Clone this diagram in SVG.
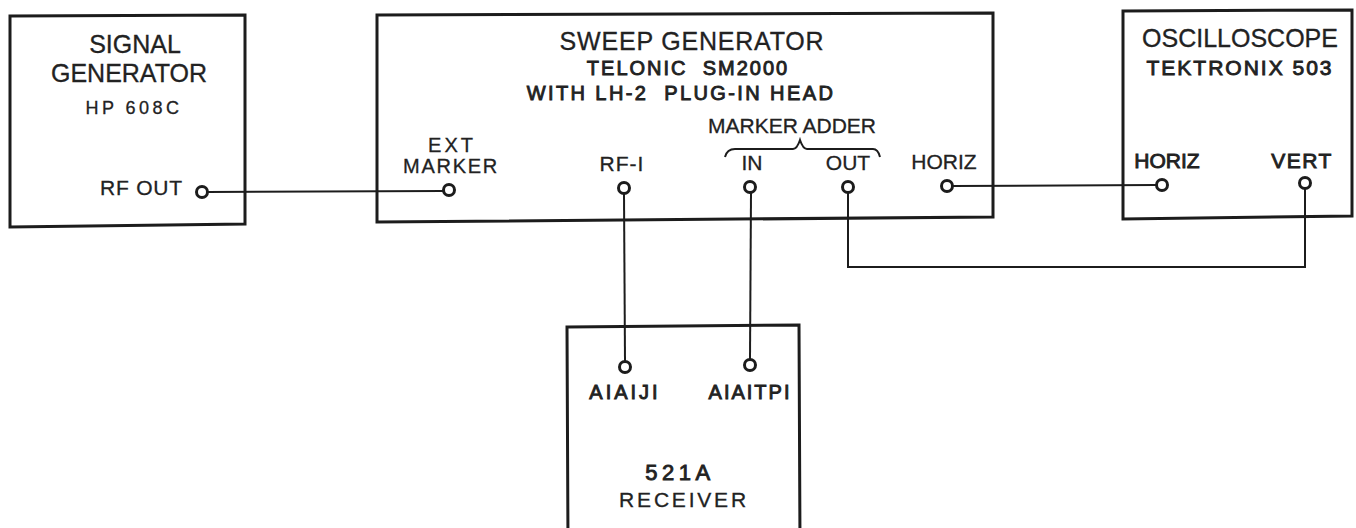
<svg xmlns="http://www.w3.org/2000/svg" width="1356" height="528" viewBox="0 0 1356 528">
<style>
.box{fill:none;stroke:#1c1c1c;stroke-width:3;stroke-linejoin:miter}
.wire{fill:none;stroke:#1c1c1c;stroke-width:2}
.port{fill:#fff;stroke:#1c1c1c;stroke-width:3}
text{font-family:"Liberation Sans",Arial,sans-serif;fill:#222;text-anchor:middle;stroke:#222;stroke-width:0.3}
.big{font-size:25px}
.med{font-size:21px}
.bold{stroke-width:0.9}
</style>
<rect width="1356" height="528" fill="#fff"/>
<g id="connectors">
  <polyline class="wire" points="208,192 443,191"/>
  <polyline class="wire" points="953,186 1156,185"/>
  <polyline class="wire" points="848,193 848,267 1305,267 1305,189"/>
  <polyline class="wire" points="624,194 625,361"/>
  <polyline class="wire" points="751,193 750,359"/>
  <path class="wire" d="M725,157 Q727,149 735,149 L793,149 Q797,149 800,140 Q803,149 807,149 L873,149 Q878,149 880,157"/>
</g>
<g id="signal-generator">
  <path class="box" d="M10,16 L245,15 L245,224 L10,227 Z"/>
  <text class="big" x="135" y="53">SIGNAL</text>
  <text class="big" x="129" y="82">GENERATOR</text>
  <text x="134" y="114" style="font-size:18px;letter-spacing:3.5px">HP 608C</text>
  <text class="med" x="100" y="195" style="text-anchor:start;letter-spacing:0.8px">RF OUT</text>
  <circle class="port" cx="202" cy="192" r="5.5"/>
</g>
<g id="sweep-generator">
  <path class="box" d="M377,15 L993,13 L993,217 L377,222 Z"/>
  <text class="big" x="692" y="50" style="letter-spacing:0.8px">SWEEP GENERATOR</text>
  <text class="bold" x="688" y="75" xml:space="preserve" style="font-size:20px;letter-spacing:2px">TELONIC  SM2000</text>
  <text class="bold" x="681" y="100" xml:space="preserve" style="font-size:20px;letter-spacing:2.4px">WITH LH-2  PLUG-IN HEAD</text>
  <text class="med" x="452" y="152" style="font-size:20px;letter-spacing:3px">EXT</text>
  <text class="med" x="451" y="173" style="font-size:20px;letter-spacing:1.7px">MARKER</text>
  <circle class="port" cx="449" cy="190" r="5.5"/>
  <text class="med" x="622" y="171" style="letter-spacing:1px">RF-I</text>
  <circle class="port" cx="624" cy="188" r="5.5"/>
  <text class="med" x="792" y="133">MARKER ADDER</text>
  <text class="med" x="752" y="170">IN</text>
  <circle class="port" cx="750" cy="187" r="5.5"/>
  <text class="med" x="848" y="170">OUT</text>
  <circle class="port" cx="848" cy="187" r="5.5"/>
  <text class="med" x="944" y="169">HORIZ</text>
  <circle class="port" cx="947" cy="186" r="5.5"/>
</g>
<g id="oscilloscope">
  <path class="box" d="M1123,11 L1352,10 L1352,216 L1123,219 Z"/>
  <text class="big" x="1240" y="47">OSCILLOSCOPE</text>
  <text class="med bold" x="1240" y="75" style="letter-spacing:2px">TEKTRONIX 503</text>
  <text class="med bold" x="1167" y="168">HORIZ</text>
  <text class="med bold" x="1302" y="168" style="letter-spacing:1.5px">VERT</text>
  <circle class="port" cx="1162" cy="185" r="5.5"/>
  <circle class="port" cx="1305" cy="183" r="5.5"/>
</g>
<g id="receiver">
  <path class="box" d="M567,327 L799,325 L800,545 L568,545 Z"/>
  <circle class="port" cx="625" cy="367" r="5.5"/>
  <circle class="port" cx="750" cy="365" r="5.5"/>
  <text class="bold" x="625" y="399" style="font-size:20px;letter-spacing:3px">AIAIJI</text>
  <text class="bold" x="750" y="399" style="font-size:20px;letter-spacing:2px">AIAITPI</text>
  <text class="bold" x="680" y="480" style="font-size:22px;letter-spacing:4.5px">521A</text>
  <text class="med" x="684" y="507" style="letter-spacing:2.8px">RECEIVER</text>
</g>
</svg>
